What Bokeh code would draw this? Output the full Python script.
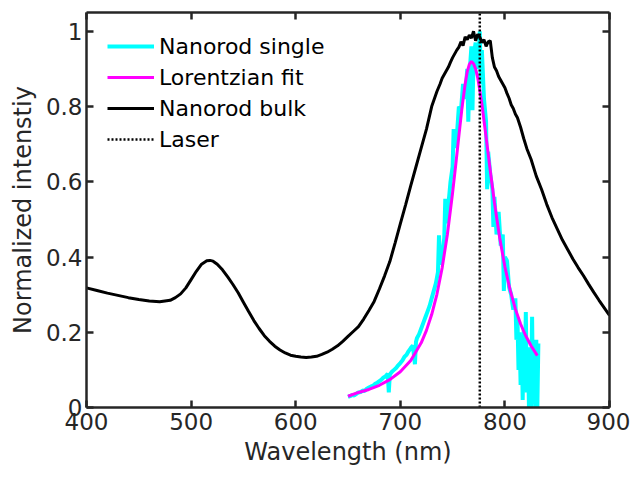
from bokeh.plotting import figure
from bokeh.models import Range1d, LinearAxis, FixedTicker, NumeralTickFormatter, Legend, LegendItem
from bokeh.embed import file_html
from bokeh.resources import INLINE

# ---------------- data ----------------
bulk_nm = [400, 410, 420, 430, 440, 450, 460, 470, 480, 485, 490, 495, 500, 505, 510, 515, 518, 521,
           525, 530, 535, 540, 545, 550, 555, 560, 565, 570, 575, 580, 585, 590, 595, 600, 605, 610,
           615, 620, 625, 630, 635, 640, 645, 650, 655, 660, 665, 670, 675, 680, 685, 690, 695, 700,
           705, 710, 715, 720, 725, 730, 735, 738, 740, 742, 744, 746, 748, 750, 752, 754, 756, 758,
           760, 762, 764, 766, 768, 770, 772, 774, 776, 778, 780, 782, 784, 786, 788, 790, 792, 794,
           796, 798, 800, 802, 804, 806, 808, 810, 812, 815, 818, 821, 825, 830, 835, 840, 845, 850,
           855, 860, 865, 870, 875, 880, 885, 890, 895, 900]
bulk_int = [0.318, 0.311, 0.304, 0.298, 0.292, 0.287, 0.283, 0.281, 0.285, 0.292, 0.302, 0.318, 0.340,
            0.362, 0.381, 0.390, 0.391, 0.389, 0.381, 0.366, 0.347, 0.327, 0.305, 0.280, 0.255, 0.231,
            0.210, 0.191, 0.176, 0.163, 0.153, 0.145, 0.139, 0.136, 0.134, 0.133, 0.134, 0.136, 0.141,
            0.147, 0.155, 0.164, 0.176, 0.189, 0.202, 0.215, 0.235, 0.258, 0.282, 0.315, 0.350, 0.388,
            0.437, 0.488, 0.538, 0.590, 0.640, 0.690, 0.740, 0.800, 0.840, 0.860, 0.875, 0.885, 0.895,
            0.905, 0.918, 0.930, 0.940, 0.950, 0.958, 0.972, 0.962, 0.985, 0.978, 0.990, 0.982, 1.000,
            0.975, 0.992, 0.985, 0.970, 0.978, 0.960, 0.972, 0.975, 0.930, 0.905, 0.895, 0.880, 0.870,
            0.860, 0.850, 0.835, 0.822, 0.805, 0.795, 0.780, 0.770, 0.745, 0.715, 0.688, 0.660, 0.615,
            0.580, 0.540, 0.505, 0.475, 0.445, 0.420, 0.395, 0.372, 0.351, 0.328, 0.306, 0.285, 0.265,
            0.245]

single_nm = [650, 652, 654, 656, 658, 660, 662, 664, 666, 668, 670, 672, 674, 676, 678, 680, 682, 684,
             686, 688, 689, 690, 692, 694, 696, 698, 700, 702, 704, 706, 708, 710, 712, 714, 715, 716,
             718, 720, 722, 724, 726, 728, 730, 732, 734, 736, 737, 738, 740, 742, 743, 744, 746, 748,
             750, 751, 752, 754, 756, 758, 760, 762, 764, 765, 766, 768, 769, 770, 772, 774, 776, 777,
             778, 780, 782, 783, 784, 786, 788, 789, 790, 792, 794, 796, 798, 799, 800, 802, 804, 806,
             808, 810, 811, 812, 813, 814, 815, 816, 817, 818, 819, 820, 821, 822, 823, 824, 825, 826,
             827, 828, 829, 830, 831, 832]
single_int = [0.028, 0.030, 0.033, 0.032, 0.036, 0.040, 0.041, 0.045, 0.044, 0.050, 0.053, 0.056, 0.058,
              0.063, 0.066, 0.070, 0.074, 0.080, 0.083, 0.090, 0.040, 0.088, 0.095, 0.100, 0.105, 0.112,
              0.118, 0.125, 0.135, 0.140, 0.150, 0.158, 0.165, 0.115, 0.175, 0.185, 0.195, 0.210, 0.225,
              0.240, 0.255, 0.270, 0.290, 0.310, 0.330, 0.360, 0.458, 0.380, 0.400, 0.450, 0.555, 0.490,
              0.540, 0.600, 0.640, 0.740, 0.690, 0.720, 0.800, 0.790, 0.860, 0.820, 0.900, 0.760, 0.880,
              0.960, 0.790, 0.930, 0.970, 0.900, 1.000, 0.860, 0.950, 0.820, 0.760, 0.580, 0.680, 0.620,
              0.580, 0.480, 0.560, 0.460, 0.520, 0.430, 0.460, 0.310, 0.400, 0.390, 0.320, 0.300, 0.260,
              0.290, 0.180, 0.240, 0.100, 0.200, 0.060, 0.190, 0.020, 0.210, 0.080, 0.254, 0.040, 0.160,
              0.000, 0.120, 0.000, 0.241, 0.010, 0.150, 0.000, 0.180, 0.000, 0.170]

fit_nm = [650, 660, 670, 680, 690, 700, 710, 720, 725, 730, 735, 740, 745, 750, 753, 756, 759, 762,
          764, 766, 768, 770, 772, 774, 776, 778, 780, 783, 786, 790, 795, 800, 805, 810, 815, 820,
          825, 831]
fit_int = [0.030, 0.040, 0.048, 0.059, 0.074, 0.095, 0.125, 0.172, 0.205, 0.247, 0.301, 0.371, 0.460,
           0.571, 0.645, 0.722, 0.797, 0.860, 0.893, 0.912, 0.920, 0.914, 0.900, 0.877, 0.843, 0.807,
           0.763, 0.697, 0.630, 0.545, 0.451, 0.374, 0.312, 0.262, 0.222, 0.190, 0.164, 0.138]

laser_nm = [776, 776]
laser_int = [0, 1.05]

x_ticks = [400, 500, 600, 700, 800, 900]
y_ticks = [0, 0.2, 0.4, 0.6, 0.8, 1]

FONT = "DejaVu Sans"
AX = "#262626"

p = figure(frame_width=523, frame_height=395, output_backend="svg", toolbar_location=None,
           x_range=Range1d(400, 900), y_range=Range1d(0, 1.05),
           min_border_left=86, min_border_right=21, min_border_top=12, min_border_bottom=60,
           x_axis_label="Wavelength (nm)", y_axis_label="Normalized intenstiy")
p.grid.visible = False
p.outline_line_color = None
p.border_fill_color = "white"
p.background_fill_color = "white"

top_axis = LinearAxis()
right_axis = LinearAxis()
p.add_layout(top_axis, "above")
p.add_layout(right_axis, "right")

for ax in p.xaxis:
    ax.ticker = FixedTicker(ticks=x_ticks)
for ax in p.yaxis:
    ax.ticker = FixedTicker(ticks=y_ticks)
    ax.formatter = NumeralTickFormatter(format="0.[0]")

for ax in p.axis:
    ax.axis_line_color = AX
    ax.axis_line_width = 2.5
    ax.major_tick_line_color = AX
    ax.major_tick_line_width = 2.5
    ax.major_tick_in = 7
    ax.major_tick_out = 0
    ax.minor_tick_in = 0
    ax.minor_tick_out = 0
    ax.major_label_text_font = FONT
    ax.major_label_text_font_size = "23px"
    ax.major_label_text_color = AX
    ax.axis_label_text_font = FONT
    ax.axis_label_text_font_size = "24px"
    ax.axis_label_text_font_style = "normal"
    ax.axis_label_text_color = AX

for ax in (top_axis, right_axis):
    ax.major_label_text_font_size = "0px"
    ax.major_label_standoff = 0
    ax.axis_label = None

p.xaxis[0].major_label_standoff = 3
p.xaxis[0].axis_label_standoff = 6
p.yaxis[0].major_label_standoff = 4
p.yaxis[0].axis_label_standoff = 6

r_single = p.line(single_nm, single_int, line_color="#00FFFF", line_width=4)
r_fit = p.line(fit_nm, fit_int, line_color="#FF00FF", line_width=3)
r_bulk = p.line(bulk_nm, bulk_int, line_color="black", line_width=3)
r_laser = p.line(laser_nm, laser_int, line_color="black", line_width=2.5, line_dash="2 2")

legend = Legend(items=[
    LegendItem(label="Nanorod single", renderers=[r_single]),
    LegendItem(label="Lorentzian fit", renderers=[r_fit]),
    LegendItem(label="Nanorod bulk", renderers=[r_bulk]),
    LegendItem(label="Laser", renderers=[r_laser]),
], location=(21, 253), margin=0, padding=0, spacing=1,
    glyph_width=47, glyph_height=30, label_height=30, label_standoff=5,
    label_text_font=FONT, label_text_font_size="22px", label_text_color="black",
    border_line_color=None, background_fill_alpha=0)
p.add_layout(legend)

open("out.html", "w").write(file_html(p, INLINE))
